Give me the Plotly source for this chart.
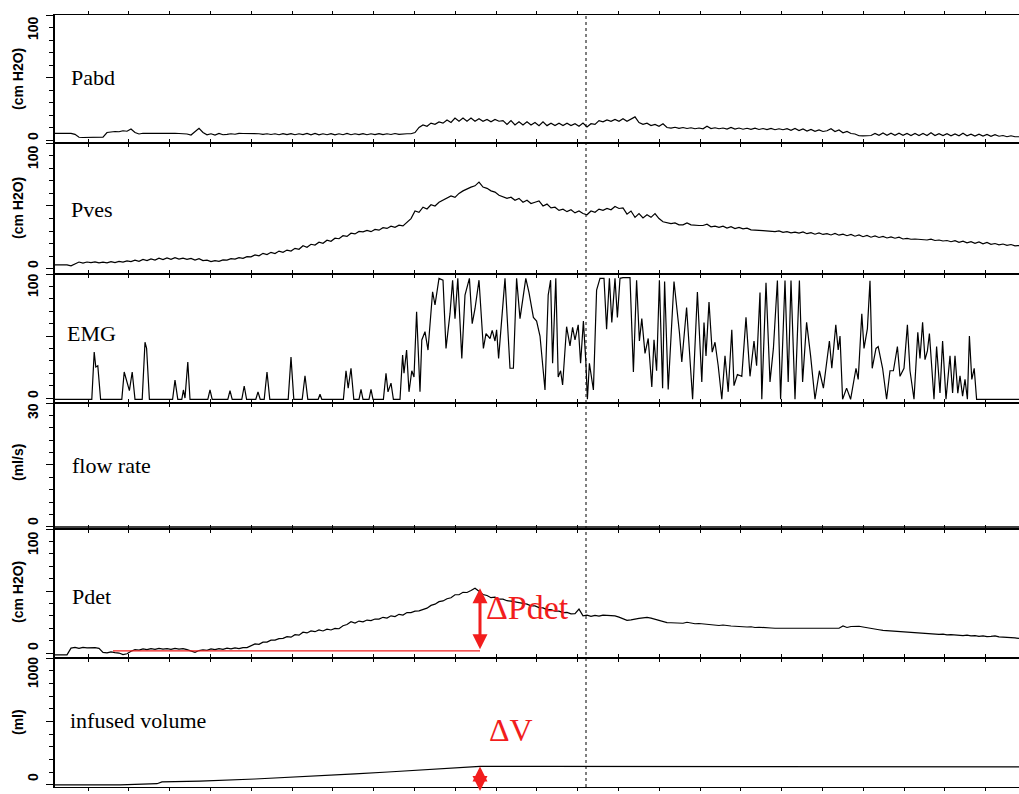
import numpy as np
import plotly.graph_objects as go

# ---------------------------------------------------------------------------
# Urodynamic recording (filling phase)
# ---------------------------------------------------------------------------

# pressure channels are sampled once per second
t_sec = np.arange(242)

pabd = [
    5.3, 5.3, 5.3, 5.3, 5.3, 4.5, 2.2, 2.0, 2.1, 2.0,
    2.1, 2.0, 2.3, 6.0, 6.5, 6.8, 6.6, 7.4, 7.0, 8.8,
    6.0, 4.8, 5.4, 5.2, 5.5, 5.3, 5.3, 5.4, 5.3, 5.3,
    5.3, 5.2, 5.3, 4.8, 4.0, 6.5, 9.3, 6.0, 4.2, 5.0,
    4.0, 5.2, 4.2, 4.5, 5.0, 4.6, 5.3, 5.2, 5.3, 5.2,
    5.4, 5.0, 4.5, 5.0, 4.4, 5.0, 4.2, 5.1, 4.3, 5.1,
    4.2, 5.0, 4.3, 5.2, 4.2, 5.2, 4.1, 5.0, 4.2, 5.1,
    4.1, 5.0, 4.2, 5.2, 4.2, 5.0, 4.3, 5.1, 4.2, 5.0,
    4.3, 5.1, 4.3, 5.0, 4.4, 5.2, 4.5, 5.0, 5.0, 5.0,
    6.0, 10.0, 12.0, 11.0, 13.5, 12.5, 14.5, 13.5, 16.0, 14.0,
    17.5, 15.0, 17.5, 15.0, 17.5, 15.0, 17.0, 15.0, 16.5, 14.5,
    16.5, 15.0, 15.5, 12.5, 15.5, 12.0, 14.5, 12.0, 14.5, 12.0,
    14.0, 11.5, 14.5, 11.5, 13.5, 11.5, 13.5, 11.5, 13.5, 11.5,
    13.0, 11.0, 13.5, 10.5, 13.0, 12.5, 15.5, 14.5, 16.0, 15.0,
    16.5, 15.0, 17.0, 15.0, 16.5, 18.5, 14.0, 12.5, 13.5, 11.5,
    12.5, 11.0, 13.0, 10.0, 9.5, 10.2, 9.3, 10.0, 9.2, 9.8,
    9.0, 9.6, 9.0, 11.0, 9.2, 9.8, 9.0, 9.6, 8.8, 10.0,
    8.8, 9.6, 8.6, 9.4, 8.5, 9.4, 8.4, 9.2, 8.3, 9.2,
    8.2, 9.0, 8.2, 9.0, 7.8, 9.2, 7.6, 8.8, 7.2, 8.4,
    7.0, 8.0, 6.8, 7.4, 9.0, 6.8, 8.0, 5.8, 6.8, 5.2,
    4.8, 3.4, 3.3, 3.3, 3.6, 5.2, 3.8, 5.6, 3.8, 5.4,
    3.8, 5.4, 3.8, 5.2, 3.6, 5.2, 3.6, 5.2, 3.6, 5.8,
    3.6, 5.0, 3.6, 5.0, 3.4, 4.8, 3.4, 5.4, 3.4, 4.6,
    3.2, 4.6, 3.2, 4.4, 3.0, 4.2, 3.0, 3.6, 2.6, 3.4,
    2.6, 2.6,
]

pves = [
    3.2, 3.2, 3.2, 3.2, 2.5, 4.0, 5.5, 4.6, 5.5, 5.0,
    5.6, 4.8, 5.4, 4.8, 5.8, 5.0, 6.0, 5.4, 6.4, 5.8,
    7.0, 6.0, 7.5, 6.6, 8.0, 7.0, 8.6, 7.4, 8.8, 7.6,
    9.0, 7.8, 8.6, 7.6, 8.4, 7.0, 8.2, 6.6, 7.0, 5.8,
    6.6, 6.0, 7.2, 7.0, 8.2, 7.8, 9.0, 8.4, 9.8, 9.6,
    11.2, 10.4, 12.4, 11.4, 13.2, 12.2, 14.2, 13.2, 15.0, 14.2,
    16.4, 15.6, 18.4, 17.2, 19.6, 19.0, 21.2, 20.4, 22.8, 22.0,
    24.4, 24.0, 26.4, 25.8, 28.4, 27.8, 29.8, 29.4, 30.6, 29.6,
    31.4, 30.8, 32.8, 32.2, 34.0, 33.0, 34.8, 34.2, 37.0, 40.0,
    46.0, 45.0, 49.0, 47.6, 51.0, 50.0, 53.0, 54.6, 56.0, 58.0,
    56.8, 60.0, 62.0, 63.6, 65.0, 66.0, 69.0, 65.0, 64.0, 62.0,
    61.0, 58.5, 57.0, 56.0, 57.0, 54.5, 56.0, 53.0, 54.5, 52.0,
    53.0, 54.0, 50.0, 51.5, 48.5, 49.0, 46.5, 47.5, 45.5, 47.0,
    44.5, 46.0, 44.0, 43.0, 46.0, 45.0, 47.5, 46.5, 48.0, 47.0,
    49.6, 48.0, 48.5, 43.5, 46.0, 41.0, 44.0, 40.5, 43.0, 41.0,
    44.0, 40.0, 37.5, 36.5, 36.0, 36.5, 35.0, 35.0, 36.5, 35.0,
    34.5, 34.5, 34.5, 35.5, 33.5, 34.0, 33.0, 34.0, 32.5, 33.5,
    32.0, 33.0, 31.8, 32.4, 31.0, 31.0, 30.6, 30.4, 30.0, 30.0,
    29.6, 30.2, 29.0, 29.6, 28.6, 29.2, 28.4, 29.4, 28.0, 28.8,
    27.6, 28.6, 27.4, 28.0, 27.0, 28.2, 26.8, 27.6, 26.4, 27.4,
    26.0, 27.0, 25.6, 26.6, 25.2, 26.2, 25.0, 25.8, 24.6, 25.4,
    24.4, 25.2, 23.8, 24.2, 23.6, 23.8, 23.4, 23.4, 23.0, 23.6,
    22.6, 23.0, 22.2, 22.6, 21.6, 22.4, 21.2, 22.0, 20.8, 21.6,
    20.4, 21.4, 20.0, 21.0, 19.6, 20.2, 19.2, 19.8, 18.8, 19.4,
    18.4, 18.6,
]

pdet = [
    -1.5, -1.5, -1.5, -1.5, 4.0, 4.5, 3.8, 4.6, 4.2, 4.6,
    4.4, 3.8, 0.5, 0.2, 1.0, 0.4, 0.0, -1.2, -0.6, 1.5,
    2.8, 2.4, 3.4, 2.8, 3.6, 3.0, 3.8, 3.2, 3.6, 3.0,
    3.8, 3.2, 3.6, 2.8, 1.6, 0.6, 2.0, 2.6, 2.2, 3.4,
    2.8, 3.6, 3.0, 4.0, 3.4, 4.2, 3.6, 4.4, 4.4, 5.6,
    7.4, 7.0, 8.8, 8.8, 10.4, 10.4, 11.6, 11.8, 13.2, 12.8,
    14.8, 14.4, 16.8, 16.2, 17.8, 17.2, 18.6, 17.8, 19.2, 18.6,
    19.8, 19.6, 22.0, 23.0, 25.2, 24.2, 25.8, 25.2, 26.6, 26.2,
    27.4, 27.4, 28.8, 28.2, 30.0, 29.4, 31.2, 30.6, 32.6, 32.6,
    33.8, 34.0, 35.4, 36.2, 38.4, 39.4, 41.4, 42.0, 43.8, 44.6,
    47.0, 47.0, 49.0, 48.8, 50.4, 52.2, 49.8, 47.2, 46.4, 44.6,
    45.0, 43.4, 43.4, 42.2, 41.8, 41.2, 40.6, 39.6, 39.4, 38.0,
    38.0, 36.6, 36.4, 35.0, 35.0, 33.8, 33.8, 32.6, 32.8, 31.6,
    31.8, 35.4, 30.0, 30.6, 29.6, 30.4, 29.8, 30.6, 30.4, 30.8,
    30.0, 29.0, 27.6, 26.4, 26.8, 27.6, 28.0, 28.4, 28.8, 28.2,
    27.2, 26.2, 25.4, 24.6, 24.4, 24.2, 24.6, 24.0, 24.8, 24.2,
    23.6, 23.8, 23.4, 23.6, 23.2, 22.8, 22.2, 22.6, 22.0, 21.8,
    21.6, 21.2, 21.4, 21.0, 21.2, 20.6, 20.8, 20.4, 20.6, 20.2,
    20.0, 20.0, 19.8, 19.8, 19.8, 19.8, 19.8, 20.0, 19.8, 19.8,
    19.8, 19.6, 19.8, 19.6, 19.8, 19.8, 20.0, 21.8, 20.6, 21.4,
    21.8, 21.6, 21.0, 20.6, 19.8, 19.4, 18.8, 18.2, 18.0, 17.4,
    17.6, 16.8, 17.0, 16.4, 16.6, 16.0, 16.2, 15.6, 15.8, 15.2,
    15.4, 15.0, 15.2, 14.6, 14.8, 14.4, 14.6, 14.0, 14.4, 13.8,
    14.0, 13.4, 13.8, 13.2, 13.4, 13.8, 13.0, 12.8, 13.2, 12.4,
    12.2, 11.8,
]

# EMG activity (irregular sampling around the bursts)
emg_t = [
    0, 9.2, 9.8, 10.2, 10.7, 11.4,
    16.7, 17.3, 18.6, 19.3, 20.0,
    21.8, 22.5, 22.9, 23.6,
    29.4, 30.0, 30.7,
    31.7, 32.1, 32.5, 33.2, 33.75,
    38.2, 38.75, 39.3,
    43.2, 43.75, 44.3,
    46.7, 47.3, 47.9,
    50.2, 50.75, 51.3,
    52.3, 53.0, 53.7,
    58.3, 59.0, 59.7,
    61.8, 62.5, 63.2,
    65.8, 66.25, 66.7,
    72.1, 72.75, 73.3, 74.0, 74.7,
    76.0, 76.5, 77.0,
    78.5, 79.0, 79.5,
    82.1, 82.75, 83.25, 84.0, 84.6,
    86.25, 86.9, 87.25, 87.9, 88.5, 89.2, 89.75, 90.4, 91.25, 91.7,
    92.5, 93.25, 94.4, 95.0, 96.0, 97.0, 97.75, 98.75, 99.4, 100.0,
    100.7, 101.7, 102.5, 103.6, 104.3, 105.0, 106.0, 107.1, 107.75, 108.75,
    109.3, 110.0, 110.4, 110.9, 112.5, 113.75, 114.6, 115.4, 116.25, 117.7,
    118.5, 119.6, 120.4, 121.25, 122.5, 123.3, 123.9, 124.4, 125.2, 125.8,
    126.4, 126.9, 127.9, 128.75, 129.4, 130.0, 130.8, 131.4, 132.1, 132.7,
    133.1, 133.6, 134.2, 134.6, 135.4, 136.25, 137.25, 137.9, 138.6, 139.2,
    140.0, 140.6, 141.25, 142.0, 143.75, 144.6, 145.4, 146.1, 146.7, 147.5,
    148.3, 149.2, 149.75, 150.4, 151.1, 151.9, 152.4, 153.3, 154.75, 156.1,
    156.7, 157.9, 159.4, 160.6, 161.7, 162.25, 162.75, 163.5, 164.3, 165.0,
    165.8, 166.7, 167.5, 168.3, 169.2, 169.75, 170.6, 171.7, 172.75, 173.75,
    174.75, 175.4, 176.25, 176.7, 177.75, 178.75, 179.6, 180.6, 181.4, 182.5,
    183.3, 184.0, 185.0, 186.1, 186.9, 187.9, 188.9, 190.0, 191.1, 192.1,
    193.6, 194.2, 195.2, 195.8, 196.25, 196.9, 197.9, 198.9, 200.25, 200.8,
    201.7, 202.25, 203.1, 203.75, 204.3, 205.25, 205.8, 206.9, 207.9, 208.75,
    209.6, 210.6, 211.25, 212.25, 213.1, 213.75, 214.75, 215.7, 216.25, 216.9,
    217.5, 218.1, 218.6, 219.2, 219.75, 220.4, 221.25, 221.9, 222.75, 223.75,
    224.4, 225.0, 225.7, 226.25, 226.9, 227.5, 228.1, 228.6, 229.2, 229.8,
    230.4, 241,
]
emg_v = [
    -1, -1, 37, 25, 26, -1,
    -1, 21, 6, 21, -1,
    -1, 45, 40, -1,
    -1, 14.5, -1,
    -1, 6.5, 0, 29, -1,
    -1, 6.5, -1,
    -1, 6, -1,
    -1, 9.7, -1,
    -1, 5, -1,
    -1, 21, -1,
    -1, 33, -1,
    -1, 18, -1,
    -1, 3, -1,
    -1, 22, 8, 24, -1,
    -1, 7, -1,
    -1, 7, -1,
    -1, 20, 5, 12, -1,
    -1, 34.7, 20, 38.7, 5, 22, 17, 69.6, 5, 46.8,
    53.5, 38.7, 85.7, 75, 96.5, 95, 40, 68, 95, 64,
    96.5, 32, 83, 96.5, 60, 72, 95, 40, 52, 48,
    54.6, 46, 55, 32, 96.5, 24, 24, 96.5, 64, 96.5,
    85, 65, 62, 50, 6.5, 83, 95, 28, 96.5, 17,
    22, 10.5, 57.5, 42, 57, 46.8, 59, 28, 62, 30,
    -1, 28, 14.5, 6.5, 87, 96.5, 96.5, 55.4, 96.5, 61,
    96.5, 65, 96.5, 97, 97, 21, 95, 46, 64, 36,
    48, 9, 47, 22, 95, 8, 94, 7, 94, 53,
    29, 73, -1, 85.5, 13, 60.8, 34, 77.4, 37, 45,
    26, -1, 34, 5, 55, 10, 19, 17.5, 65, 17.5,
    46, 26, 85, -1, 93, 13, 40, 94.7, -1, 94.7,
    13, 94.7, -1, 94.7, 13, 61, 34, -1, 22, 8,
    46, 24, 59, 38.7, 50, -1, 8, -1, 24, 15,
    68, 40, 56, 94.5, 24, 40, 41.5, 24, -1, 22,
    22, 41.5, 17.5, 24, 59, 22, -1, 53, 32, 61,
    31, 38, 52, 22, -1, 41.5, 4, 46, -1, 34,
    4, 34, 4, 18, 1.5, 15, -1, 50, 15, 24,
    -1, -1,
]

# no voiding during filling: flow stays at zero
flow_t = [0, 241]
flow_v = [0, 0]

# infused volume (ml)
vol_t = [0, 16.25, 23.75, 25.5, 26.75, 36.25, 50, 61.25, 75, 83.25,
         93.75, 104.25, 106.25, 121.25, 180, 241]
vol_v = [0, 0, 8, 10, 24, 30, 47, 63, 87, 102,
         122, 142, 146, 146, 145, 143]

# annotation anchors
event_t = 132.75      # dotted event marker
delta_t = 106.25      # where the delta arrows are drawn
base_t0 = 14.5        # start of the Pdet reference line
pdet_base = 1.8       # Pdet reference level (cm H2O)
pdet_peak = max(pdet)
vol_peak = max(vol_v)

RED = "#f21d1d"
SANS = "Liberation Sans, Arial, sans-serif"
SERIF = "Liberation Serif, Times New Roman, serif"

# ---------------------------------------------------------------------------
W, H = 1019, 794
M_L, M_R, M_T, M_B = 55, 0, 15, 7
PLOT_H = H - M_T - M_B
edges_px = [15, 143, 274, 403, 529, 658, 787]   # horizontal panel borders


def py(p):
    """pixel row -> paper fraction"""
    return (H - M_B - p) / PLOT_H


def px(p):
    """pixel column -> paper fraction"""
    return (p - M_L) / (W - M_L - M_R)


panels = [
    dict(x=t_sec, y=pabd, rng=[-2.4, 100], major=50, minor=10),
    dict(x=t_sec, y=pves, rng=[-4, 100], major=50, minor=10),
    dict(x=emg_t, y=emg_v, rng=[-4, 100], major=50, minor=10),
    dict(x=flow_t, y=flow_v, rng=[-0.5, 30], major=15, minor=3),
    dict(x=t_sec, y=pdet, rng=[-4, 100], major=50, minor=10),
    dict(x=vol_t, y=vol_v, rng=[-16, 1000], major=500, minor=100),
]

fig = go.Figure()
layout = {}
for i, p in enumerate(panels, start=1):
    sfx = "" if i == 1 else str(i)
    fig.add_trace(go.Scatter(
        x=p["x"], y=p["y"], mode="lines",
        line=dict(color="black", width=1.5 if i == 4 else 1.2),
        xaxis="x" + sfx, yaxis="y" + sfx,
        showlegend=False, hoverinfo="skip",
    ))
    dom = [py(edges_px[i]), py(edges_px[i - 1])]
    layout["xaxis" + sfx] = dict(
        domain=[0, 1], anchor="y" + sfx, range=[0, 241],
        showline=True, linecolor="black", linewidth=1.2, mirror="ticks",
        ticks="outside", ticklen=3, tickwidth=1, tickcolor="black",
        tick0=8.25, dtick=10.2,
        showticklabels=False, showgrid=False, zeroline=False,
    )
    layout["yaxis" + sfx] = dict(
        domain=dom, anchor="x" + sfx, range=p["rng"],
        showline=True, linecolor="black", linewidth=1.5,
        ticks="outside", ticklen=7, tickwidth=1, tickcolor="black",
        tick0=0, dtick=p["major"],
        minor=dict(dtick=p["minor"], tick0=0, ticks="outside", ticklen=4,
                   tickwidth=1, tickcolor="black", showgrid=False),
        showticklabels=False, showgrid=False, zeroline=False,
    )

fig.update_layout(
    width=W, height=H,
    margin=dict(l=M_L, r=M_R, t=M_T, b=M_B),
    paper_bgcolor="white", plot_bgcolor="white",
    **layout,
)

# dotted event marker through all channels
fig.add_shape(type="line", xref="x", yref="paper", x0=event_t, x1=event_t,
              y0=0, y1=1, line=dict(color="black", width=1, dash="dot"))

# Pdet reference level
fig.add_shape(type="line", xref="x5", yref="y5", x0=base_t0, x1=delta_t,
              y0=pdet_base, y1=pdet_base, line=dict(color=RED, width=1.2))

# delta arrows
fig.add_annotation(x=delta_t, y=pdet_peak, ax=delta_t, ay=pdet_base,
                   xref="x5", yref="y5", axref="x5", ayref="y5", text="",
                   showarrow=True, arrowside="end+start", arrowhead=2,
                   arrowsize=1, arrowwidth=3, arrowcolor=RED,
                   standoff=0, startstandoff=0)
fig.add_annotation(x=delta_t, y=vol_peak, ax=delta_t, ay=-60,
                   xref="x6", yref="y6", axref="x6", ayref="y6", text="",
                   showarrow=True, arrowside="end+start", arrowhead=2,
                   arrowsize=1, arrowwidth=3, arrowcolor=RED,
                   standoff=0, startstandoff=0)
fig.add_annotation(x=px(527), y=py(628), xref="paper", yref="paper",
                   text="ΔPdet", showarrow=False,
                   font=dict(family=SERIF, size=34, color=RED))
fig.add_annotation(x=px(511), y=py(750), xref="paper", yref="paper",
                   text="ΔV", showarrow=False,
                   font=dict(family=SERIF, size=32, color=RED))

# channel names
channel_labels = [("Pabd", 69, 78), ("Pves", 69, 209), ("EMG", 65, 333),
                  ("flow rate", 70, 465), ("Pdet", 70, 596),
                  ("infused volume", 68, 720)]
for txt, x0, yc in channel_labels:
    fig.add_annotation(x=px(x0), y=py(yc), xref="paper", yref="paper",
                       text=txt, showarrow=False, xanchor="left",
                       yanchor="middle",
                       font=dict(family=SERIF, size=22, color="black"))

# rotated scale labels at the left margin
scale_labels = [
    ("100", 33, 28), ("(cm H2O)", 18, 79), ("0", 33, 136),
    ("100", 33, 157), ("(cm H2O)", 18, 208), ("0", 33, 264),
    ("100", 33, 285), ("0", 33, 394),
    ("30", 33, 411), ("(ml/s)", 18, 463), ("0", 33, 521),
    ("100", 33, 543), ("(cm H2O)", 18, 592), ("0", 33, 646),
    ("1000", 33, 673), ("(ml)", 18, 722), ("0", 33, 777),
]
for txt, xc, yc in scale_labels:
    fig.add_annotation(x=px(xc), y=py(yc), xref="paper", yref="paper",
                       text="<b>%s</b>" % txt, showarrow=False, textangle=-90,
                       xanchor="center", yanchor="middle",
                       font=dict(family=SANS, size=14, color="black"))

fig.write_html("out.html", config={"displayModeBar": False})
